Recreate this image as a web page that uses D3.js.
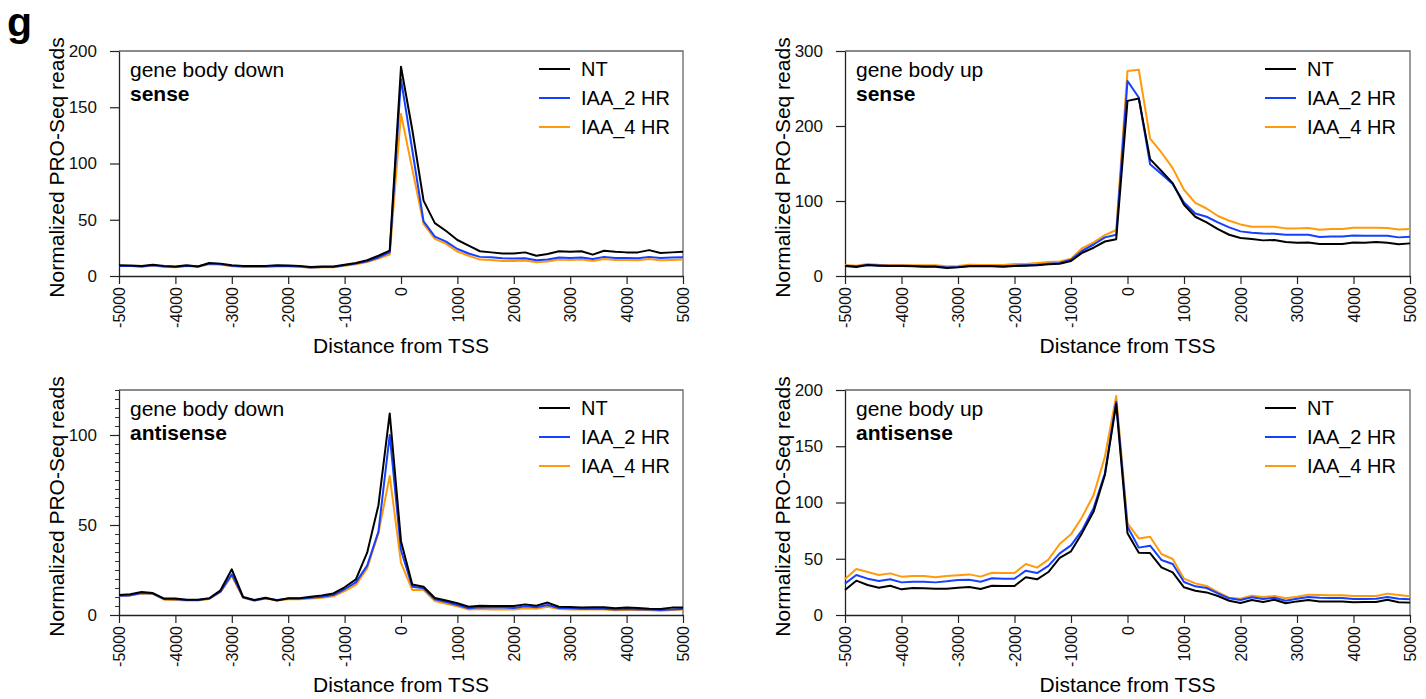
<!DOCTYPE html>
<html>
<head>
<meta charset="utf-8">
<script src="https://cdn.jsdelivr.net/npm/d3@7"></script>
<style>
  body { margin: 0; background: #fff; }
  svg { display: block; font-family: "Liberation Sans", Arial, sans-serif; }
</style>
</head>
<body>
<script>
// distance bins (bp from TSS)
const distance = [-5000,-4800,-4600,-4400,-4200,-4000,-3800,-3600,-3400,-3200,-3000,-2800,-2600,-2400,-2200,-2000,-1800,-1600,-1400,-1200,-1000,-800,-600,-400,-200,
  0,200,400,600,800,1000,1200,1400,1600,1800,2000,2200,2400,2600,2800,3000,3200,3400,3600,3800,4000,4200,4400,4600,4800,5000];

const seriesNames = ["NT", "IAA_2 HR", "IAA_4 HR"];
const seriesColors = ["#000000", "#1540ff", "#ff9a0a"];
const xTicks = [-5000,-4000,-3000,-2000,-1000,0,1000,2000,3000,4000,5000];

// gene body down, sense
const downSenseNT = [9.5,9.3,8.8,10,9,8.5,9.5,8.5,11.5,11,9.5,9,9,9,9.5,9.3,9,8,8.5,8.5,10,11.5,14,18,22.5,
  186,130,67,47,40,32,27,22,21,20,20,21,18,19.5,22,21.5,22,19,22.5,21.5,21,21,23,20.5,21,21.5];
const downSenseIAA2 = [9,9,8.5,9.5,8.5,8,9,8.5,11,10.5,9,8.5,8.5,8.5,8.8,8.8,8.5,7.5,8,8,9.5,11,13,16.5,21,
  175,112,48.5,35,30.6,24,20,17,16.7,15.8,15.5,15.8,14,14.6,16.4,16,16.4,15.2,17,16,16,15.8,17,16,16.4,16.7];
const downSenseIAA4 = [8.8,8.8,8.3,9.3,8.3,7.8,8.8,8.3,10.5,10.2,8.7,8.2,8.2,8.2,8.5,8.5,8.2,7.3,7.8,7.8,9,10.5,12.5,15.5,19,
  144,95,46.4,33,28.6,21.7,18,14.6,14.3,13.4,13.4,13.7,12.2,12.8,14.6,14.3,14.6,13.4,15.2,14.3,14.3,14,15.2,14,14.3,14.6];

// gene body up, sense
const upSenseNT = [13.3,12,14.6,13.8,13.3,13.3,12.9,12.4,12.4,10.7,11.5,12.9,12.9,12.9,12.4,13.3,13.8,14.2,15.5,16.4,20,31,37.7,46,49,
  233.5,236.6,155.8,140,123.8,95,79,71.5,62.6,55,50.6,49.3,47.5,48,45.3,44.4,44.8,42.6,42.6,42.6,44.8,44.4,45.3,44.4,42.2,43.5];
const upSenseIAA2 = [13.8,12.9,14.6,14,13.6,13.6,13.3,12.9,12.9,11.3,12,13.3,13.3,13.3,12.9,13.8,14.2,14.9,16.4,17.3,21.7,33.7,42,51.5,55,
  260,238,149,136,122.5,98,83.4,79,71.5,64.8,59.5,57.7,56.8,56.4,55,55,55,52,52.8,52.8,54,53.7,53.7,53.7,51.5,52.4];
const upSenseIAA4 = [14.6,13.8,16,15,14.6,14.6,14.2,14.2,14.2,12.9,13.3,15,14.6,14.6,14.6,16,16,17.3,18.6,19.5,23,37.3,44.8,54.6,61.3,
  273.4,275,183.3,164.7,143.8,115,97.6,90,80,73.7,68.8,65.7,65.7,65.7,63.5,63.5,64,61.7,62.6,62.6,64.4,64.4,64.4,64,62.1,62.6];

// gene body down, antisense
const downAntiNT = [11.1,11.5,12.8,12.2,9.1,9.1,8.5,8.5,9.3,13.7,25.4,10,8.3,9.6,8.1,9.3,9.3,10.2,10.9,12,15.4,19.8,34.6,61,112,
  41,16.9,15.7,9.4,8,6.5,4.6,5.2,5,5,5,5.9,5.2,6.9,4.6,4.4,4.1,4.3,4.3,3.7,4.1,3.9,3.5,3.3,4.1,4.1];
const downAntiIAA2 = [10.7,10.9,12.2,11.9,8.9,8.7,8.3,8.3,9.1,13,22.6,9.8,8.1,9.3,8.3,9.1,9.1,9.6,10.2,11.1,14.3,18.1,27.4,46.3,100,
  36,15.7,14.8,8.7,7.2,5.6,3.7,4.3,4.1,4.1,3.9,4.8,4.3,5.6,3.9,3.7,3.5,3.5,3.5,3.1,3.3,3.1,3,2.8,3.1,3.3];
const downAntiIAA4 = [10.7,10.9,12,11.7,8.5,8.3,8.1,8.1,8.9,12.8,21.7,9.6,8,9.1,8.1,8.7,8.7,9.1,9.6,10.4,13.3,16.7,25.9,45.4,77.2,
  29,13.9,13.9,7.8,6.3,4.8,3,3.3,3.1,3.1,3,3.7,3.5,4.6,3.3,3.1,3,3,3,2.6,2.8,2.8,2.6,2.4,2.8,3];

// gene body up, antisense
const upAntiNT = [22.2,30.5,26.7,24.3,26,22.8,24,23.7,23.4,23.4,24.3,24.9,23.1,26,25.8,25.8,33.5,31.7,38.2,50.7,56.6,73.2,91.9,124.4,187.6,
  72.6,55.4,55.1,42.4,37.9,24.6,21.6,20.1,16.9,12.7,10.7,13.3,11.6,13.6,10.4,12.1,13.3,12.1,12.1,12.1,11.3,11.6,11.6,13.6,11.3,11];
const upAntiIAA2 = [27.9,35.6,32.3,30.2,31.7,29,29.6,29.6,29,29.9,31.1,31.4,29.6,32.6,32.3,32.3,39.4,37.3,43.6,54.8,61.9,75.6,95,126,189.6,
  78.5,59.9,61.6,48.9,45.3,29.3,25.5,24,19.3,14.8,13.3,15.7,14.2,15.4,12.7,14.5,16,15.4,15.1,15.1,14.2,14.2,14.5,16,14.5,13.9];
const upAntiIAA4 = [32,40.9,38.2,35.6,37,34.1,34.7,34.7,33.5,34.7,35.3,36.1,34.1,37.6,37.3,37.3,45.3,42.1,49.2,63.1,71.7,87.4,106.7,140.7,194.7,
  81.5,68.1,69.6,54.2,49.8,32.3,28.1,25.8,20.4,15.4,14.5,17.2,16,16.9,14.8,16.3,18.1,17.8,17.5,17.5,16.9,16.9,16.9,19,17.8,16.6];

const panels = [
  {title: "gene body down", strand: "sense", series: [downSenseNT, downSenseIAA2, downSenseIAA4],
   left: 119, right: 683, top: 51, bottom: 276, yMax: 200, yTicks: [0,50,100,150,200]},
  {title: "gene body up", strand: "sense", series: [upSenseNT, upSenseIAA2, upSenseIAA4],
   left: 845, right: 1410, top: 51, bottom: 276, yMax: 300, yTicks: [0,100,200,300]},
  {title: "gene body down", strand: "antisense", series: [downAntiNT, downAntiIAA2, downAntiIAA4],
   left: 119, right: 683, top: 390, bottom: 615, yMax: 125, yTicks: [0,50,100], minor: 5},
  {title: "gene body up", strand: "antisense", series: [upAntiNT, upAntiIAA2, upAntiIAA4],
   left: 845, right: 1410, top: 390, bottom: 615, yMax: 200, yTicks: [0,50,100,150,200]}
];

const svg = d3.select("body").append("svg")
    .attr("width", 1426)
    .attr("height", 699);

svg.append("rect").attr("width", 1426).attr("height", 699).attr("fill", "#fff");

svg.append("text")
    .attr("x", 7).attr("y", 36)
    .attr("font-size", 41).attr("font-weight", "bold")
    .text("g");

panels.forEach(p => {
  const x = d3.scaleLinear().domain([-5000, 5000]).range([p.left, p.right]);
  const y = d3.scaleLinear().domain([0, p.yMax]).range([p.bottom, p.top]);
  const g = svg.append("g");

  // box (top + right in grey)
  g.append("path")
      .attr("d", `M${p.left},${p.top}H${p.right}V${p.bottom}`)
      .attr("fill", "none").attr("stroke", "#666").attr("stroke-width", 1.3);

  // minor y ticks
  if (p.minor) {
    g.append("g")
        .attr("transform", `translate(${p.left},0)`)
        .call(d3.axisLeft(y).tickValues(d3.range(0, p.yMax + 0.1, p.minor)).tickSize(4).tickFormat(""))
        .call(a => a.select(".domain").remove())
        .selectAll("line").attr("stroke", "#333");
  }

  const yAxis = g.append("g")
      .attr("transform", `translate(${p.left},0)`)
      .call(d3.axisLeft(y).tickValues(p.yTicks).tickSize(9).tickPadding(13).tickSizeOuter(0));
  yAxis.selectAll("text").attr("font-size", 17).attr("fill", "#111").attr("font-family", "Liberation Sans, Arial, sans-serif");

  const xAxis = g.append("g")
      .attr("transform", `translate(0,${p.bottom})`)
      .call(d3.axisBottom(x).tickValues(xTicks).tickSize(8).tickSizeOuter(0).tickFormat(d => String(d)));
  xAxis.selectAll("text")
      .attr("font-size", 16).attr("fill", "#111")
      .attr("font-family", "Liberation Sans, Arial, sans-serif")
      .attr("transform", "rotate(-90)")
      .attr("text-anchor", "end")
      .attr("dy", "0.35em")
      .attr("x", -11).attr("y", 0);

  [yAxis, xAxis].forEach(a => {
    a.select(".domain").attr("stroke", "#222").attr("stroke-width", 1.3);
    a.selectAll(".tick line").attr("stroke", "#222").attr("stroke-width", 1.2);
  });

  // axis titles
  g.append("text")
      .attr("x", (p.left + p.right) / 2).attr("y", p.bottom + 77)
      .attr("text-anchor", "middle").attr("font-size", 21)
      .text("Distance from TSS");
  g.append("text")
      .attr("transform", `translate(${p.left - 55},${(p.top + p.bottom) / 2 + 4}) rotate(-90)`)
      .attr("text-anchor", "middle").attr("font-size", 21)
      .text("Normalized PRO-Seq reads");

  // lines, orange first so black is on top
  const line = d3.line()
      .x((d, i) => x(distance[i]))
      .y(d => y(d));
  [2, 1, 0].forEach(k => {
    g.append("path")
        .datum(p.series[k])
        .attr("fill", "none")
        .attr("stroke", seriesColors[k])
        .attr("stroke-width", 2)
        .attr("stroke-linejoin", "round")
        .attr("d", line);
  });

  // panel label
  g.append("text")
      .attr("x", p.left + 11).attr("y", p.top + 26)
      .attr("font-size", 21)
      .text(p.title);
  g.append("text")
      .attr("x", p.left + 11).attr("y", p.top + 50)
      .attr("font-size", 21).attr("font-weight", "bold")
      .text(p.strand);

  // legend
  const leg = g.append("g").attr("transform", `translate(${p.left + 420},${p.top + 18})`);
  seriesNames.forEach((name, i) => {
    leg.append("line")
        .attr("x1", 0).attr("x2", 31)
        .attr("y1", i * 29).attr("y2", i * 29)
        .attr("stroke", seriesColors[i]).attr("stroke-width", 2);
    leg.append("text")
        .attr("x", 42).attr("y", i * 29)
        .attr("dy", "0.35em")
        .attr("font-size", 20)
        .text(name);
  });
});
</script>
</body>
</html>
